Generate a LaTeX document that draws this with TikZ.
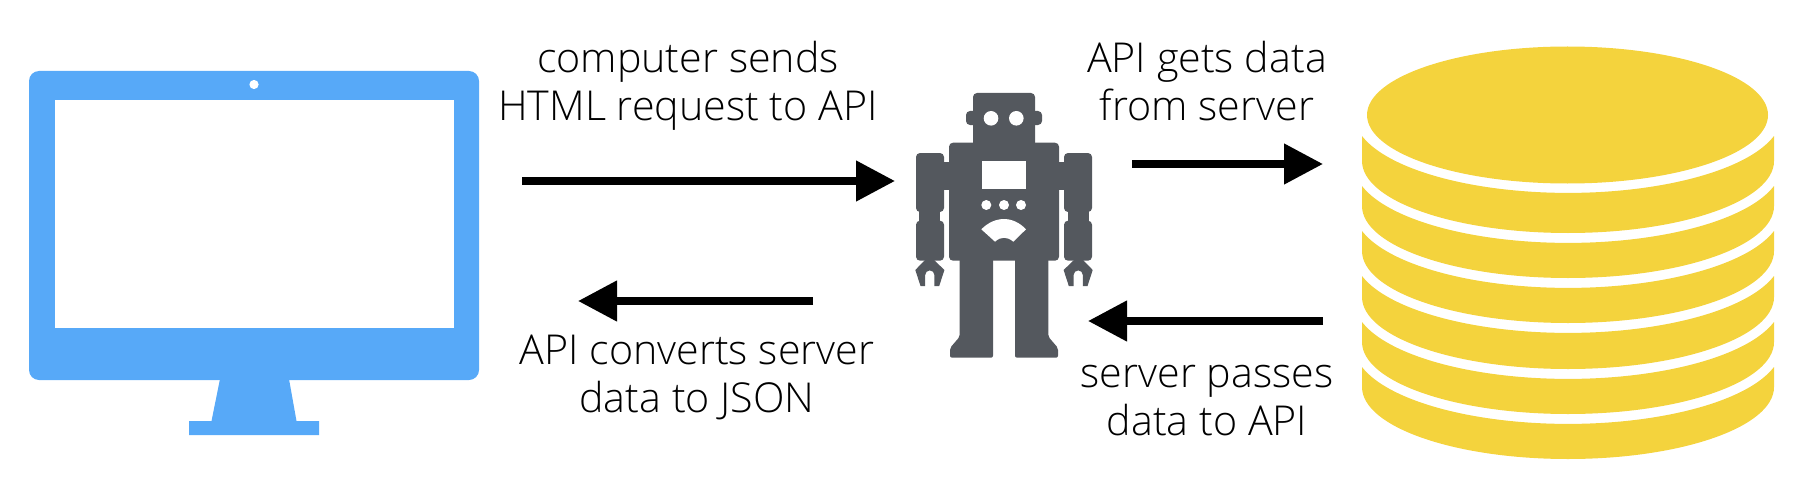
\documentclass[tikz,border=0pt]{standalone}
\usepackage{fontspec}
\usepackage{xcolor}
\usetikzlibrary{arrows.meta}
\setmainfont{Open Sans Light}
\definecolor{screenblue}{HTML}{57A9F8}
\definecolor{stackyellow}{HTML}{F4D33D}
\definecolor{robotgray}{HTML}{54585E}
\tikzset{
    flow-arrow/.style = {draw=black, line width=3.85pt, -{Triangle[length=19.5pt, width=19.5pt]}},
    flow-label/.style = {align=center, inner sep=0pt, anchor=base, font=\fontsize{20.6}{24}\selectfont},
    monitor-part/.style = {fill=screenblue},
    stack-part/.style = {fill=stackyellow},
    robot-part/.style = {fill=robotgray, rounded corners=2pt},
    robot-hole/.style = {fill=white},
}

\begin{document}
\begin{tikzpicture}[x=0.5pt, y=-0.5pt]
\useasboundingbox (0,0) rectangle (1802,492);

% computer
\fill[monitor-part, rounded corners=5pt] (29,71) rectangle (479,380);
\fill[white] (55,100) rectangle (454,328);
\fill[white] (254,84.5) circle (2.3pt);
\fill[monitor-part] (220,379) -- (289,379) -- (296.5,421) -- (319,421) -- (319,435) -- (189,435) -- (189,421) -- (211.5,421) -- cycle;

% database
\foreach \top/\bottom in {424/459, 379/414, 333/369, 288/323, 243/278, 193/233} {
    \fill[stack-part] (1362,\top-57) -- (1362,\bottom-72) arc[start angle=180, end angle=0, x radius=206, y radius=72]
        -- (1774,\top-57) arc[start angle=15.7, end angle=164.3, x radius=214, y radius=78] -- cycle;
}
\fill[stack-part] (1567.5,115) ellipse [x radius=200.5, y radius=68.5];

% robot
\begin{scope}[shift={(1004,0)}]
\fill[robot-part] (-31,93) rectangle (31,150);
\fill[robot-part] (-38,111) rectangle (38,125);
\fill[robot-part] (-55,142.7) rectangle (55,260.7);
\foreach \side in {-1,1} {
    \begin{scope}[xscale=\side]
    \fill[robot-part] (60,153) rectangle (88,212);
    \fill[robot-part] (60,220.7) rectangle (88,260.7);
    \fill[robotgray] (50,161.7) rectangle (70,190);
    \fill[robotgray] (64,205) rectangle (85,226);
    \fill[robot-part, rounded corners=1pt] (11,250) -- (44.3,250) -- (44.3,336.7) -- (54,348) -- (54,357.7) -- (11,357.7) -- cycle;
    \fill[robotgray] (70,260) -- (79,260) -- (88.7,270) -- (83.5,286) -- (78.8,286) -- (78.8,275) arc[start angle=0, end angle=-180, radius=4.6] -- (69.6,286) -- (64.8,286) -- (59.6,270) -- cycle;
    \end{scope}
}
\fill[robot-hole] (-22.3,160.7) rectangle (22,189);
\foreach \x in {-17.7,0,17} {
    \fill[robot-hole] (\x,205) circle (2.5pt);
}
\foreach \x in {-13,12.3} {
    \fill[robot-hole] (\x,118.3) circle (3.65pt);
}
\fill[robot-hole] (-22.7,229.3) .. controls (-9,215.6) and (9,215.6) .. (22,229.3) -- (9.3,241.7) .. controls (3,236.4) and (-3,236.4) .. (-9,241.7) -- cycle;
\end{scope}

\coordinate (sendstart) at (522,181);
\coordinate (sendend) at (895,181);
\coordinate (getstart) at (1132,164);
\coordinate (getend) at (1323,164);
\coordinate (passstart) at (1323,321);
\coordinate (passend) at (1088,321);
\coordinate (convertstart) at (813,301);
\coordinate (convertend) at (578,301);
\draw[flow-arrow] (sendstart) -- (sendend);
\draw[flow-arrow] (getstart) -- (getend);
\draw[flow-arrow] (passstart) -- (passend);
\draw[flow-arrow] (convertstart) -- (convertend);

\node[flow-label] (sendlabel) at (688,120) {computer sends\\HTML request to API};
\node[flow-label] (getlabel) at (1207,120) {API gets data\\from server};
\node[flow-label] (passlabel) at (1207,435) {server passes\\data to API};
\node[flow-label] (convertlabel) at (697,412) {API converts server\\data to JSON};
\end{tikzpicture}
\end{document}
